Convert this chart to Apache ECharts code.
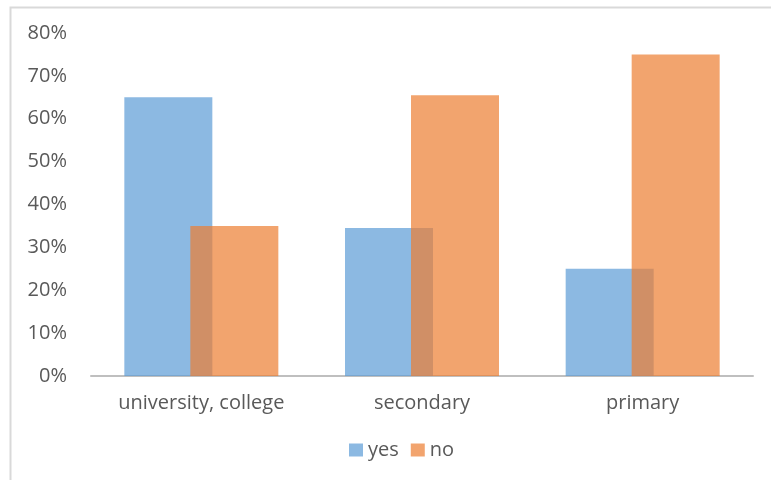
<!DOCTYPE html>
<html>
<head>
<meta charset="utf-8">
<script src="https://cdn.jsdelivr.net/npm/echarts@6/dist/echarts.min.js"></script>
<style>
  html, body { margin: 0; padding: 0; background: #fff; }
  #chart { width: 771px; height: 480px; }
</style>
</head>
<body>
<div id="chart"></div>
<script>
// categories and values (percent)
const categories = ['university, college', 'secondary', 'primary']
const yesValues = [65, 34.5, 25]
const noValues = [35, 65.5, 75]
const yTicks = [0, 10, 20, 30, 40, 50, 60, 70, 80]

const font = 'Open Sans'
const chart = echarts.init(document.getElementById('chart'))

chart.setOption({
  animation: false,
  textStyle: { fontFamily: font },
  // outer frame like the Excel chart area
  graphic: [{
    type: 'rect',
    shape: { x: 10.5, y: 7.5, width: 800, height: 500 },
    style: { fill: 'none', stroke: '#d9d9d9', lineWidth: 2 },
    silent: true
  }],
  grid: { left: 91, right: 18, top: 33, bottom: 104 },
  legend: {
    data: ['yes', 'no'],
    left: 344,
    top: 435,
    icon: 'rect',
    itemWidth: 14,
    itemHeight: 13,
    itemGap: 12,
    textStyle: { color: '#595959', fontSize: 20, fontFamily: font }
  },
  xAxis: {
    type: 'category',
    data: categories,
    axisTick: { show: false },
    axisLine: { lineStyle: { color: '#bfbfbf', width: 2 } },
    axisLabel: { color: '#595959', fontSize: 20, margin: 17 }
  },
  yAxis: {
    type: 'value',
    min: 0,
    max: 80,
    interval: 10,
    axisLine: { show: false },
    axisTick: { show: false },
    splitLine: { show: false },
    axisLabel: {
      color: '#595959',
      fontSize: 20,
      margin: 24,
      formatter: v => yTicks.includes(v) ? v + '%' : ''
    }
  },
  series: [
    {
      name: 'yes',
      type: 'bar',
      data: yesValues,
      barWidth: 88,
      barGap: '-25%',
      itemStyle: { color: 'rgba(91,155,213,0.7)' }
    },
    {
      name: 'no',
      type: 'bar',
      data: noValues,
      barWidth: 88,
      itemStyle: { color: 'rgba(237,125,49,0.7)' }
    }
  ]
})
</script>
</body>
</html>
